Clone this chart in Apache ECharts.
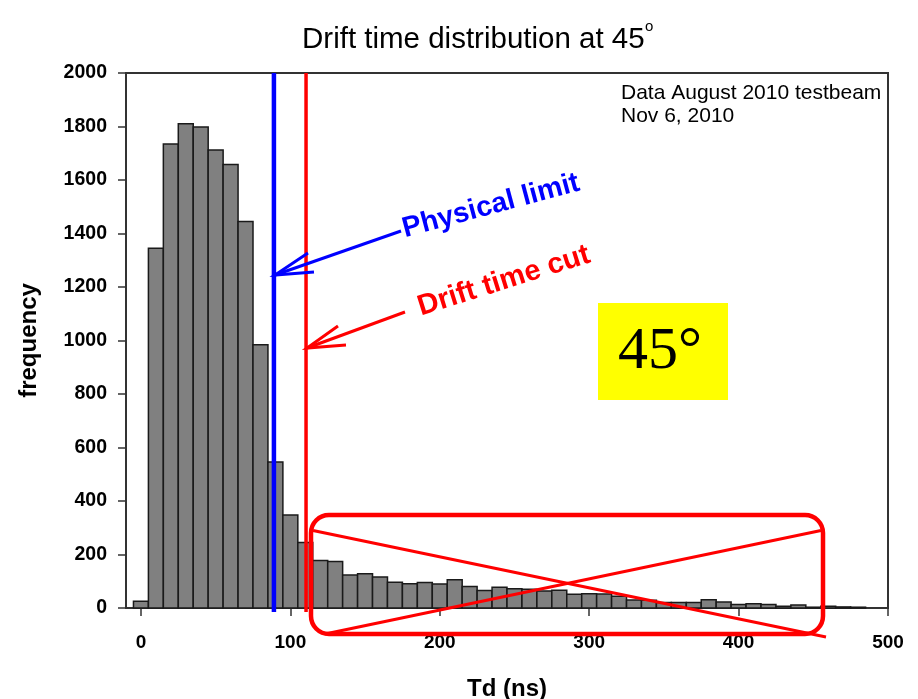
<!DOCTYPE html>
<html>
<head>
<meta charset="utf-8">
<title>Drift time distribution at 45°</title>
<script src="https://cdn.jsdelivr.net/npm/echarts@6/dist/echarts.min.js"></script>
<style>
  html, body { margin: 0; padding: 0; background: #fff; }
  #chart { width: 918px; height: 699px; }
</style>
</head>
<body>
<div id="chart"></div>
<script>
// Histogram bins: centre of each 10 ns bin and its count
const binWidth = 10;
const binCenters = [
  0, 10, 20, 30, 40, 50, 60, 70, 80, 90,
  100, 110, 120, 130, 140, 150, 160, 170, 180, 190,
  200, 210, 220, 230, 240, 250, 260, 270, 280, 290,
  300, 310, 320, 330, 340, 350, 360, 370, 380, 390,
  400, 410, 420, 430, 440, 450, 460, 470, 480
];
const frequency = [
  25, 1345, 1735, 1810, 1798, 1712, 1658, 1445, 984, 546,
  348, 245, 178, 174, 123, 128, 116, 96, 91, 95,
  90, 106, 80, 65, 78, 72, 70, 64, 66, 51,
  53, 52, 44, 30, 29, 21, 21, 21, 31, 22,
  13, 16, 13, 7, 11, 3, 7, 4, 3
];

// Axis ticks
const xTickValues = [0, 100, 200, 300, 400, 500];
const yTickStep = 200;

// Reference lines (ns)
const physicalLimit = 89;
const driftTimeCut = 110.5;

const FONT = "'Liberation Sans', Arial, sans-serif";

const histData = binCenters.map((c, i) => [c, frequency[i]]);

function renderBin(params, api) {
  const c = api.value(0);
  const v = api.value(1);
  const topLeft = api.coord([c - binWidth / 2, v]);
  const bottomRight = api.coord([c + binWidth / 2, 0]);
  return {
    type: 'rect',
    shape: {
      x: topLeft[0],
      y: topLeft[1],
      width: bottomRight[0] - topLeft[0],
      height: bottomRight[1] - topLeft[1]
    },
    style: { fill: '#808080', stroke: '#1a1a1a', lineWidth: 1.5 }
  };
}

const chart = echarts.init(document.getElementById('chart'), null, { renderer: 'canvas' });

chart.setOption({
  animation: false,
  backgroundColor: '#ffffff',
  grid: {
    left: 126, right: 30, top: 73, bottom: 91,
    outerBoundsMode: 'none',
    containLabel: false,
    show: true, borderColor: '#333333', borderWidth: 2, backgroundColor: 'transparent'
  },
  xAxis: {
    type: 'value',
    min: -10,
    max: 500,
    name: 'Td (ns)',
    nameLocation: 'middle',
    nameGap: 69,
    nameTextStyle: { fontFamily: FONT, fontSize: 24, fontWeight: 'bold', color: '#000' },
    axisLine: { show: true, onZero: false, lineStyle: { color: '#333333', width: 2 } },
    axisTick: { show: true, inside: false, length: 8, customValues: xTickValues,
                lineStyle: { color: '#333333', width: 1.5 } },
    axisLabel: { show: true, customValues: xTickValues, margin: 25,
                 formatter: v => String(v),
                 fontFamily: FONT, fontSize: 19, fontWeight: 'bold', color: '#000' },
    splitLine: { show: false }
  },
  yAxis: {
    type: 'value',
    min: 0,
    max: 2000,
    interval: yTickStep,
    name: 'frequency',
    nameLocation: 'middle',
    nameRotate: 90,
    nameGap: 85,
    nameTextStyle: { fontFamily: FONT, fontSize: 24, fontWeight: 'bold', color: '#000' },
    axisLine: { show: true, onZero: false, lineStyle: { color: '#333333', width: 2 } },
    axisTick: { show: true, inside: false, length: 8, lineStyle: { color: '#333333', width: 1.5 } },
    axisLabel: { margin: 19, formatter: v => String(v),
                 fontFamily: FONT, fontSize: 19.5, fontWeight: 'bold', color: '#000' },
    splitLine: { show: false }
  },
  series: [
    {
      type: 'custom',
      name: 'counts',
      renderItem: renderBin,
      encode: { x: 0, y: 1 },
      data: histData,
      z: 2
    },
    {
      type: 'line',
      name: 'Physical limit',
      data: [[physicalLimit, -15], [physicalLimit, 2000]],
      symbol: 'none',
      clip: false,
      lineStyle: { color: '#0000ff', width: 4.5 },
      z: 3
    },
    {
      type: 'line',
      name: 'Drift time cut',
      data: [[driftTimeCut, -15], [driftTimeCut, 2000]],
      symbol: 'none',
      clip: false,
      lineStyle: { color: '#ff0000', width: 3.5 },
      z: 3
    }
  ],
  graphic: [
    // title with superscript degree mark
    { type: 'text', x: 302, y: 40, z: 100,
      style: { text: 'Drift time distribution at 45', fontFamily: FONT, fontSize: 29.5,
               fill: '#000', align: 'left', verticalAlign: 'middle' } },
    { type: 'text', x: 645, y: 27, z: 100,
      style: { text: 'o', fontFamily: FONT, fontSize: 15,
               fill: '#000', align: 'left', verticalAlign: 'middle' } },
    // data note
    { type: 'text', x: 621, y: 93, z: 100,
      style: { text: 'Data August 2010 testbeam', fontFamily: FONT, fontSize: 21,
               fill: '#000', align: 'left', verticalAlign: 'middle' } },
    { type: 'text', x: 621, y: 116, z: 100,
      style: { text: 'Nov 6, 2010', fontFamily: FONT, fontSize: 21,
               fill: '#000', align: 'left', verticalAlign: 'middle' } },
    // angle badge
    { type: 'rect', z: 100, shape: { x: 598, y: 303, width: 130, height: 97 },
      style: { fill: '#ffff00' } },
    { type: 'text', x: 660, y: 352, z: 101,
      style: { text: '45°', fontFamily: "'Liberation Serif', 'Times New Roman', serif",
               fontSize: 60, fill: '#000', align: 'center', verticalAlign: 'middle' } },
    // Physical limit arrow + label
    { type: 'polyline', z: 100, shape: { points: [[401, 231], [275, 275]] },
      style: { stroke: '#0000ff', lineWidth: 3, fill: null } },
    { type: 'polyline', z: 100, shape: { points: [[308, 253], [275, 275], [314, 272]] },
      style: { stroke: '#0000ff', lineWidth: 3, fill: null } },
    { type: 'text', x: 491, y: 206, rotation: 15 * Math.PI / 180, z: 100,
      style: { text: 'Physical limit', fontFamily: FONT, fontSize: 28.5, fontWeight: 'bold',
               fill: '#0000ff', align: 'center', verticalAlign: 'middle' } },
    // Drift time cut arrow + label
    { type: 'polyline', z: 100, shape: { points: [[405, 312], [307, 348]] },
      style: { stroke: '#ff0000', lineWidth: 3, fill: null } },
    { type: 'polyline', z: 100, shape: { points: [[338, 326], [307, 348], [346, 345]] },
      style: { stroke: '#ff0000', lineWidth: 3, fill: null } },
    { type: 'text', x: 504, y: 281, rotation: 17.5 * Math.PI / 180, z: 100,
      style: { text: 'Drift time cut', fontFamily: FONT, fontSize: 29, fontWeight: 'bold',
               fill: '#ff0000', align: 'center', verticalAlign: 'middle' } },
    // crossed-out tail region
    { type: 'rect', z: 100, shape: { x: 311, y: 515, width: 512, height: 119, r: 18 },
      style: { stroke: '#ff0000', lineWidth: 4.5, fill: null } },
    { type: 'line', z: 100, shape: { x1: 313, y1: 530.5, x2: 826, y2: 637 },
      style: { stroke: '#ff0000', lineWidth: 3 } },
    { type: 'line', z: 100, shape: { x1: 325, y1: 634, x2: 821, y2: 530.5 },
      style: { stroke: '#ff0000', lineWidth: 3 } }
  ]
});
</script>
</body>
</html>
